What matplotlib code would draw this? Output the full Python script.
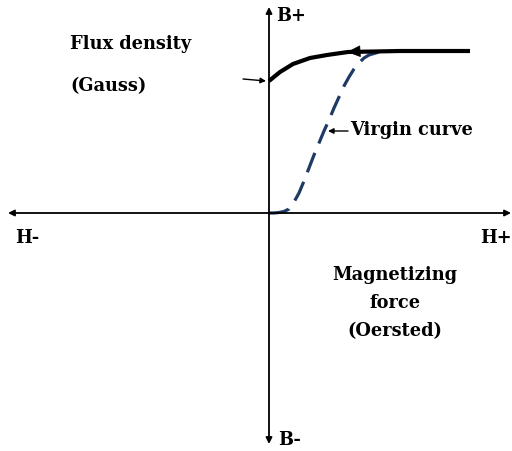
import matplotlib
matplotlib.use("Agg")
import matplotlib.pyplot as plt
import numpy as np

# Data (H in arbitrary units, B in arbitrary units)
virgin_H = [0, 0.5, 1, 1.5, 2, 2.5, 3, 3.5, 4, 4.5, 5, 5.5, 6, 6.5, 7, 7.5, 8, 8.5, 9, 9.5, 10, 11, 12]
virgin_B = [0, 0.0, 0.05, 0.15, 0.4, 1.1, 2.0, 3.2, 4.5, 5.8, 7.0, 8.2, 9.3, 10.5, 11.6, 12.7, 13.6, 14.4, 15.0, 15.5, 15.8, 16.1, 16.2]
return_H = [20.1, 13.1, 7.9, 5.8, 4.1, 2.4, 1.1, 0.0]
return_B = [16.2, 16.2, 16.1, 15.8, 15.5, 14.9, 14.1, 13.2]

fig = plt.figure(figsize=(5.12, 4.52), dpi=100)
ax = fig.add_axes([0, 0, 1, 1])
ax.set_xlim(-26.9, 24.3)
ax.set_ylim(-23.8, 21.4)
ax.axis("off")

akw = dict(arrowstyle="<|-|>", color="black", lw=1.3, mutation_scale=9, shrinkA=0, shrinkB=0)
ax.annotate("", xy=(-26.1, 0), xytext=(24.2, 0), arrowprops=akw)
ax.annotate("", xy=(0, 20.6), xytext=(0, -23.1), arrowprops=akw)

ax.plot(virgin_H, virgin_B, color="#1f3a64", lw=2.3, dashes=(6.5, 3.2), solid_capstyle="butt",
        solid_joinstyle="round")
ax.plot(return_H, return_B, color="black", lw=3.0, solid_capstyle="butt", solid_joinstyle="round")

# arrow on return curve
ax.annotate("", xy=(7.8, 16.1), xytext=(9.5, 16.2),
            arrowprops=dict(arrowstyle="-|>,head_length=0.8,head_width=0.35", color="black", lw=0.5,
                            mutation_scale=11, shrinkA=0, shrinkB=0))

# remanence pointer
ax.annotate("", xy=(-0.3, 13.2), xytext=(-2.6, 13.4),
            arrowprops=dict(arrowstyle="-|>", color="black", lw=1.0, mutation_scale=8, shrinkA=0, shrinkB=0))
# virgin curve pointer
ax.annotate("", xy=(5.9, 8.2), xytext=(7.9, 8.2),
            arrowprops=dict(arrowstyle="-|>", color="black", lw=1.0, mutation_scale=8, shrinkA=0, shrinkB=0))

fkw = dict(family="DejaVu Serif", fontweight="bold", fontsize=12.8, color="black")
ax.text(8.1, 8.4, "Virgin curve", ha="left", va="center", **fkw)
ax.text(-19.9, 17.0, "Flux density", ha="left", va="center", **fkw)
ax.text(-19.9, 12.8, "(Gauss)", ha="left", va="center", **fkw)
ax.text(0.7, 19.8, "B+", ha="left", va="center", **fkw)
ax.text(0.9, -22.6, "B-", ha="left", va="center", **fkw)
ax.text(-25.4, -2.4, "H-", ha="left", va="center", **fkw)
ax.text(21.1, -2.4, "H+", ha="left", va="center", **fkw)
ax.text(12.6, -6.1, "Magnetizing", ha="center", va="center", **fkw)
ax.text(12.6, -8.9, "force", ha="center", va="center", **fkw)
ax.text(12.6, -11.7, "(Oersted)", ha="center", va="center", **fkw)

fig.savefig("out.png", dpi=100)
